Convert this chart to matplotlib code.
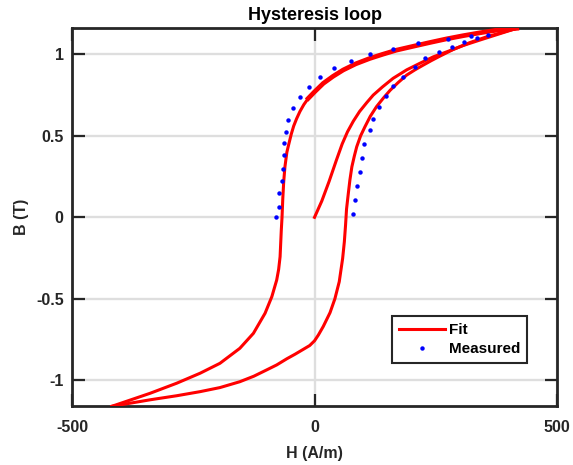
import matplotlib
matplotlib.use("Agg")
import matplotlib.pyplot as plt

# Fit: descending branch of the loop (from positive tip to negative tip)
desc_H = [417, 376, 340, 307, 272, 238, 204, 169, 140, 114, 85, 59, 38, 18, 0, -13,
          -22, -30, -37, -43, -48, -53, -57, -61, -63.5, -65.5, -67, -68.5, -71, -74,
          -78, -88, -102, -126, -154, -195, -236, -284, -339, -418]
desc_B = [1.16, 1.149, 1.132, 1.115, 1.095, 1.073, 1.05, 1.026, 1.0, 0.975, 0.942,
          0.904, 0.865, 0.822, 0.77, 0.73, 0.692, 0.65, 0.605, 0.56, 0.51, 0.45, 0.40,
          0.31, 0.22, 0.11, 0.0, -0.078, -0.242, -0.32, -0.385, -0.487, -0.589, -0.712,
          -0.804, -0.896, -0.957, -1.018, -1.08, -1.16]

# Fit: ascending branch (from negative tip to positive tip)
asc_H = [-418, -339, -284, -236, -195, -154, -125, -99, -78, -57, -40, -23, -10, 0, 8,
         18, 32, 42, 51, 58, 61.5, 64, 66, 69.7, 73, 77, 82, 87, 95, 104, 115, 128, 142,
         156, 172, 190, 207, 224, 241, 259, 286, 320, 355, 417]
asc_B = [-1.16, -1.12, -1.095, -1.07, -1.045, -1.009, -0.975, -0.937, -0.906, -0.868,
         -0.84, -0.81, -0.787, -0.758, -0.722, -0.67, -0.585, -0.5, -0.395, -0.252,
         -0.15, -0.047, 0.05, 0.147, 0.23, 0.31, 0.375, 0.433, 0.5, 0.556, 0.62, 0.68,
         0.732, 0.78, 0.826, 0.873, 0.905, 0.934, 0.962, 0.99, 1.03, 1.072, 1.108, 1.16]

# Fit: initial magnetization curve
init_H = [0, 15, 30, 45, 57, 68, 80, 93, 108, 121, 140, 162, 190, 217, 245, 273, 307,
          341, 380, 417]
init_B = [0, 0.1, 0.22, 0.35, 0.45, 0.525, 0.59, 0.65, 0.705, 0.75, 0.80, 0.853, 0.905,
          0.945, 0.985, 1.016, 1.055, 1.088, 1.125, 1.16]

# Measured points
meas_H = [-79, -74, -73, -68, -66, -63, -62, -58, -54, -44, -30, -11, 11, 41, 75, 114,
          161, 213, 275, 323, 357,
          80, 83, 87, 94, 98, 103, 114, 121, 133, 147, 162, 182, 207, 228, 257, 283,
          308, 335]
meas_B = [0.0, 0.065, 0.147, 0.225, 0.296, 0.382, 0.454, 0.525, 0.597, 0.669, 0.736,
          0.798, 0.863, 0.914, 0.961, 1.002, 1.033, 1.069, 1.094, 1.114, 1.118,
          0.02, 0.106, 0.192, 0.276, 0.366, 0.45, 0.534, 0.605, 0.677, 0.742, 0.806,
          0.863, 0.922, 0.975, 1.014, 1.047, 1.074, 1.098]

plt.rcParams['font.family'] = ['Liberation Sans', 'DejaVu Sans']
plt.rcParams['font.weight'] = 'bold'
plt.rcParams['axes.unicode_minus'] = False

fig = plt.figure(figsize=(5.73, 4.65), dpi=100)
ax = fig.add_axes([0.1257, 0.1262, 0.8464, 0.8129])

red = '#ff0000'
fit_line, = ax.plot(desc_H, desc_B, color=red, lw=2.2, zorder=3, label='Fit',
                    solid_joinstyle='round')
# upper part of the descending branch looks heavier (overlapping traces)
ax.plot(desc_H[:16], desc_B[:16], color=red, lw=3.4, zorder=3, solid_joinstyle='round')
ax.plot(asc_H, asc_B, color=red, lw=2.2, zorder=3, solid_joinstyle='round')
ax.plot(init_H, init_B, color=red, lw=2.2, zorder=3, solid_joinstyle='round')
meas_line, = ax.plot(meas_H, meas_B, linestyle='none', marker='o', ms=3.2,
                     color='#0000ff', mec='none', zorder=4, label='Measured')

ax.set_xlim(-500, 500)
ax.set_ylim(-1.16, 1.16)
ax.set_xticks([-500, 0, 500])
ax.set_yticks([-1, -0.5, 0, 0.5, 1])
ax.set_xticklabels(['-500', '0', '500'])
ax.set_yticklabels(['-1', '-0.5', '0', '0.5', '1'])

ax.grid(True, color='#dedede', lw=1.7)
ax.set_axisbelow(True)

for s in ax.spines.values():
    s.set_color('#262626')
    s.set_linewidth(2.0)
ax.tick_params(direction='in', length=9, width=1.6, color='#262626',
               top=True, right=True, labelsize=11.5, labelcolor='#262626', pad=6)
ax.tick_params(axis='x', pad=10)

ax.set_title('Hysteresis loop', fontsize=13, fontweight='bold', pad=6)
ax.set_xlabel('H (A/m)', fontsize=11.5, fontweight='bold', color='#262626', labelpad=8)
ax.set_ylabel('B (T)', fontsize=11.5, fontweight='bold', color='#262626', labelpad=5)

leg = ax.legend(handles=[fit_line, meas_line], loc='lower right',
                bbox_to_anchor=(0.939, 0.114), borderaxespad=0, fancybox=False,
                framealpha=1, edgecolor='#262626', fontsize=11,
                handlelength=3.0, handletextpad=0.3, borderpad=0.45,
                labelspacing=0.35)
leg.get_frame().set_linewidth(1.5)

fig.savefig('out.png', dpi=100)
